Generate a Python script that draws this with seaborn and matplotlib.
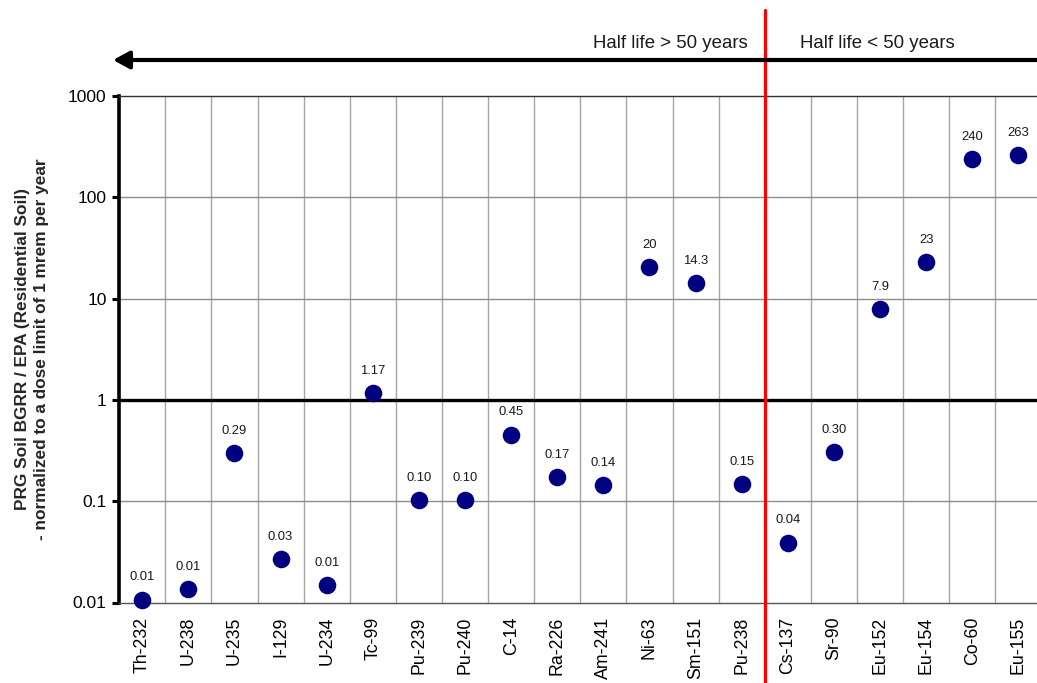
import numpy as np
import pandas as pd
import matplotlib
matplotlib.use("Agg")
import matplotlib.pyplot as plt
import matplotlib.transforms as mtransforms
import seaborn as sns

isotopes = ["Th-232", "U-238", "U-235", "I-129", "U-234", "Tc-99", "Pu-239", "Pu-240",
            "C-14", "Ra-226", "Am-241", "Ni-63", "Sm-151", "Pu-238", "Cs-137", "Sr-90",
            "Eu-152", "Eu-154", "Co-60", "Eu-155"]
ratios = [0.0107, 0.0135, 0.296, 0.0267, 0.0148, 1.17, 0.103, 0.103,
          0.455, 0.174, 0.143, 20.4, 14.3, 0.148, 0.039, 0.305,
          7.9, 23.0, 240.0, 263.0]
value_labels = ["0.01", "0.01", "0.29", "0.03", "0.01", "1.17", "0.10", "0.10",
                "0.45", "0.17", "0.14", "20", "14.3", "0.15", "0.04", "0.30",
                "7.9", "23", "240", "263"]
y_ticks = [0.01, 0.1, 1, 10, 100, 1000]
y_tick_labels = ["0.01", "0.1", "1", "10", "100", "1000"]
left_text = "Half life > 50 years"
right_text = "Half life < 50 years"
y_label = "PRG Soil BGRR / EPA (Residential Soil)\n- normalized to a dose limit of 1 mrem per year"

df = pd.DataFrame({"isotope": isotopes, "ratio": ratios, "label": value_labels})

sns.set_theme(style="white")
plt.rcParams["font.family"] = ["Liberation Sans", "DejaVu Sans"]

W, H = 1037, 683
fig = plt.figure(figsize=(W / 100, H / 100), dpi=100)
ax_left, ax_right, ax_top, ax_bot = 119.2, 1041.4, 96.0, 602.5
ax = fig.add_axes([ax_left / W, 1 - ax_bot / H, (ax_right - ax_left) / W, (ax_bot - ax_top) / H])

ax.set_yscale("log")
sns.scatterplot(data=df, x="isotope", y="ratio", ax=ax, s=160, color="#000080",
                edgecolor="#000080", linewidth=0, zorder=5, clip_on=False)
ax.set_xlim(-0.5, len(isotopes) - 0.5)
ax.set_ylim(0.01, 1000)

# grid
for i in range(len(isotopes) - 1):
    ax.axvline(i + 0.5, color="#a6a6a6", lw=1.0, zorder=1)
for yv in [0.1, 10, 100]:
    ax.axhline(yv, color="#8c8c8c", lw=1.0, zorder=1)
ax.axhline(1, color="black", lw=2.4, zorder=3)

# spines
ax.spines["right"].set_visible(False)
ax.spines["top"].set_color("#333333")
ax.spines["top"].set_linewidth(1.0)
ax.spines["bottom"].set_color("#555555")
ax.spines["bottom"].set_linewidth(1.0)
ax.spines["left"].set_color("black")
ax.spines["left"].set_linewidth(2.6)

ax.set_yticks(y_ticks)
ax.set_yticklabels(y_tick_labels)
ax.yaxis.set_minor_locator(matplotlib.ticker.NullLocator())
ax.tick_params(axis="y", which="major", left=True, length=5, width=2.2, color="black",
               labelsize=12.6, pad=4, labelcolor="black")
ax.tick_params(axis="x", bottom=False, labelsize=12.8, pad=4, labelcolor="black")
plt.setp(ax.get_xticklabels(), rotation=90)
ax.set_xlabel("")
ax.set_ylabel(y_label, fontsize=12.4, fontweight="bold", labelpad=14, linespacing=1.3)

# value labels
for i, (v, lab) in enumerate(zip(ratios, value_labels)):
    ax.annotate(lab, (i, v), xytext=(0, 16), textcoords="offset points",
                ha="center", va="center", fontsize=9.4, color="#1a1a1a", zorder=6)

# red divider
trans = mtransforms.blended_transform_factory(ax.transData, fig.transFigure)
ax.plot([13.5, 13.5], [0, 1 - 10 / H], color="#ff0000", lw=2.3, transform=trans,
        clip_on=False, zorder=7)

# arrow
arrow_y = 1 - 60 / H
fig.patches.append(matplotlib.patches.FancyArrowPatch(
    (1.01, arrow_y), (113 / W, arrow_y), transform=fig.transFigure,
    arrowstyle="-|>,head_length=0.7,head_width=0.38", mutation_scale=14,
    lw=3.0, color="black", shrinkA=0, shrinkB=0))

fig.text(748 / W, 1 - 43 / H, left_text, ha="right", va="center", fontsize=13.4, color="#1a1a1a")
fig.text(800 / W, 1 - 43 / H, right_text, ha="left", va="center", fontsize=13.4, color="#1a1a1a")

fig.savefig("out.png", dpi=100)
